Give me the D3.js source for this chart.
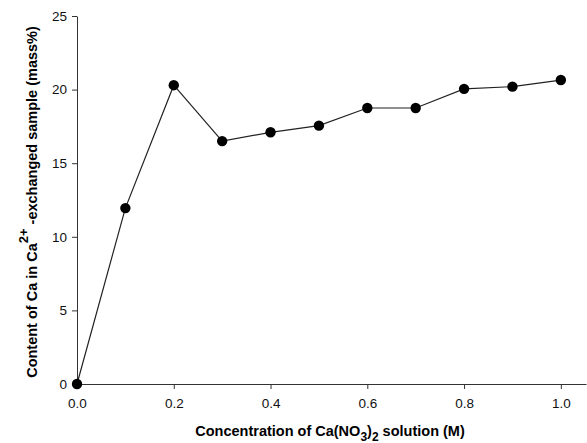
<!DOCTYPE html>
<html>
<head>
<meta charset="utf-8">
<script src="https://cdn.jsdelivr.net/npm/d3@7"></script>
<style>
  body { margin: 0; background: #fff; }
  text { font-family: "Liberation Sans", Arial, sans-serif; }
</style>
</head>
<body>
<svg id="chart" width="587" height="443"></svg>
<script>
// concentration of Ca(NO3)2 (M)
var conc = [0.0, 0.1, 0.2, 0.3, 0.4, 0.5, 0.6, 0.7, 0.8, 0.9, 1.0];
// Ca content (mass%)
var caContent = [0.0, 11.95, 20.3, 16.5, 17.1, 17.55, 18.75, 18.75, 20.05, 20.2, 20.65];
var xTicks = [0, 0.2, 0.4, 0.6, 0.8, 1.0];
var yTicks = [0, 5, 10, 15, 20, 25];

var svg = d3.select('#chart');
var plotL = 77, plotR = 586, plotT = 16, plotB = 384;

var x = d3.scaleLinear().domain([0, 1.052]).range([plotL, plotR]);
var y = d3.scaleLinear().domain([0, 25]).range([plotB, plotT]);

// axes
var xAxis = svg.append('g')
    .attr('transform', 'translate(0,' + plotB + ')')
    .call(d3.axisBottom(x).tickValues(xTicks).tickFormat(d3.format('.1f')).tickSize(5).tickSizeOuter(0));
var yAxis = svg.append('g')
    .attr('transform', 'translate(' + plotL + ',0)')
    .call(d3.axisLeft(y).tickValues(yTicks).tickSize(5).tickSizeOuter(0));

[xAxis, yAxis].forEach(function(g) {
    g.selectAll('path, line').attr('stroke', '#333').attr('stroke-width', 1);
    g.selectAll('text').style('font-size', '13.5px').attr('fill', '#111');
});
xAxis.selectAll('text').attr('dy', '1.2em');
yAxis.selectAll('text').attr('x', -10);

// line and markers
var pts = conc.map(function(c, i) { return [c, caContent[i]]; });
var line = d3.line().x(d => x(d[0])).y(d => y(d[1]));

svg.append('path')
    .datum(pts)
    .attr('fill', 'none')
    .attr('stroke', '#222')
    .attr('stroke-width', 1.2)
    .attr('d', line);

svg.selectAll('circle')
    .data(pts)
    .enter()
    .append('circle')
    .attr('cx', d => x(d[0]))
    .attr('cy', d => y(d[1]))
    .attr('r', 5.2)
    .attr('fill', '#000');

// axis titles
var xt = svg.append('text')
    .attr('x', 330)
    .attr('y', 436)
    .attr('text-anchor', 'middle')
    .style('font-size', '14.5px')
    .style('font-weight', 'bold');
xt.append('tspan').text('Concentration of Ca(NO');
xt.append('tspan').attr('dy', 5).style('font-size', '12px').text('3');
xt.append('tspan').attr('dy', -5).text(')');
xt.append('tspan').attr('dy', 5).style('font-size', '12px').text('2');
xt.append('tspan').attr('dy', -5).text(' solution (M)');

var yt = svg.append('text')
    .attr('transform', 'translate(37,' + ((plotT + plotB) / 2 + 2) + ') rotate(-90)')
    .attr('text-anchor', 'middle')
    .style('font-size', '14.5px')
    .style('font-weight', 'bold');
yt.append('tspan').text('Content of Ca in Ca');
yt.append('tspan').attr('dy', -9).style('font-size', '13px').text('2+');
yt.append('tspan').attr('dy', 9).text(' -exchanged sample (mass%)');
</script>
</body>
</html>
